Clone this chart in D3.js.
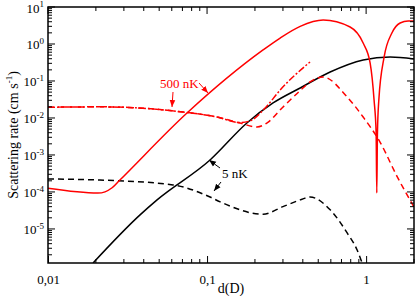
<!DOCTYPE html>
<html><head><meta charset="utf-8">
<script src="https://cdn.jsdelivr.net/npm/d3@7/dist/d3.min.js"></script>
<style>body{margin:0;background:#fff}svg{display:block}text{font-family:"Liberation Serif","DejaVu Serif",serif}</style>
</head><body>
<script>
// Data (d in D, rate in cm s^-1)
const red500Solid_d = [0.01,0.0206,0.0253,0.028,0.0748,0.225,0.288,0.385,0.537,0.793,0.958,1.06,1.122,1.156,1.167,1.178,1.202,1.298,1.452,1.636,1.837,2.0];
const red500Solid_v = [1.25e-4,9.3e-5,1.3e-4,2.0e-4,0.0136,0.69,1.45,3.0,4.45,2.88,1.06,0.306,0.0306,0.0039,9.4e-5,0.0039,0.0306,0.446,1.98,3.70,4.19,4.19];

const red500Dash_d = [0.01,0.0212,0.0706,0.1156,0.161,0.206,0.24,0.296,0.385,0.444,0.537,0.76,0.958,1.225,1.567,2.0];
const red500Dash_v = [0.0195,0.020,0.0145,0.0106,0.0073,0.0057,0.0075,0.0186,0.055,0.094,0.128,0.037,0.0106,0.0022,2.6e-4,3.9e-5];

const red500DashDot_d = [0.01,0.0212,0.0706,0.1156,0.161,0.186,0.232,0.288,0.444];
const red500DashDot_v = [0.0195,0.020,0.0145,0.0106,0.0075,0.0083,0.0186,0.057,0.327];

const black5Solid_d = [0.0192,0.0379,0.0485,0.1044,0.178,0.26,0.385,0.594,0.958,1.416,2.0];
const black5Solid_v = [1.2e-6,2.4e-5,6.1e-5,7.3e-4,7.3e-3,0.0254,0.0647,0.175,0.37,0.446,0.394];

const black5Dash_d = [0.01,0.0212,0.0611,0.1044,0.121,0.225,0.30,0.385,0.444,0.594,0.76,0.878,0.944];
const black5Dash_v = [2.24e-4,2.1e-4,1.55e-4,7.3e-5,5.4e-5,2.5e-5,4.0e-5,6.1e-5,7.3e-5,3.3e-5,7.8e-6,2.7e-6,1.2e-6];

const xMajorTicks = [0.01,0.1,1];
const xTickLabels = ["0,01","0,1","1"];
const yExponents = [1,0,-1,-2,-3,-4,-5];

const W=415,H=296;
const L=48,R=414,T=7,B=263;
const x=d3.scaleLog().domain([0.01,2]).range([L,R]);
const y=d3.scaleLog().domain([1.2e-6,10]).range([B,T]);

const svg=d3.select("body").append("svg").attr("width",W).attr("height",H);
const defs=svg.append("defs");
defs.append("clipPath").attr("id","clip").append("rect").attr("x",L).attr("y",T).attr("width",R-L).attr("height",B-T);
function marker(id,color){
  defs.append("marker").attr("id",id).attr("viewBox","0 0 10 10").attr("refX",10).attr("refY",5)
    .attr("markerWidth",7).attr("markerHeight",7).attr("orient","auto").attr("markerUnits","userSpaceOnUse")
    .append("path").attr("d","M0,1 L10,5 L0,9 z").attr("fill",color);
}
marker("ar","#ff0000");marker("ak","#000");

const line=d3.line().x(d=>x(d[0])).y(d=>y(d[1])).curve(d3.curveMonotoneX);
const g=svg.append("g").attr("clip-path","url(#clip)");
function draw(ds,vs,color,dash){
  g.append("path").datum(ds.map((d,i)=>[d,vs[i]])).attr("d",line).attr("fill","none")
   .attr("stroke",color).attr("stroke-width",1.5).attr("stroke-dasharray",dash);
}
draw(black5Dash_d,black5Dash_v,"#000","6,4");
draw(black5Solid_d,black5Solid_v,"#000",null);
draw(red500DashDot_d,red500DashDot_v,"#ff0000","7,2,2,2");
draw(red500Dash_d,red500Dash_v,"#ff0000","6,4");
draw(red500Solid_d,red500Solid_v,"#ff0000",null);

// frame
svg.append("rect").attr("x",L).attr("y",T).attr("width",R-L).attr("height",B-T).attr("fill","none").attr("stroke","#000").attr("stroke-width",1.5);

// x axes
const xAxB=d3.axisBottom(x).tickValues(xMajorTicks).tickFormat((d,i)=>xTickLabels[i]).tickSizeInner(-7).tickSizeOuter(0).tickPadding(12);
const gxb=svg.append("g").attr("transform",`translate(0,${B})`).call(xAxB);
gxb.select(".domain").remove();
gxb.selectAll("text").attr("font-size",13).attr("font-family","Liberation Serif");
const xMinor=[];
for(let e=-2;e<=0;e++)for(let k=2;k<=9;k++){const v=k*Math.pow(10,e);if(v<=2)xMinor.push(v);}
const gxm=svg.append("g");
xMinor.forEach(v=>{
  gxm.append("line").attr("x1",x(v)).attr("x2",x(v)).attr("y1",B).attr("y2",B-4).attr("stroke","#000");
  gxm.append("line").attr("x1",x(v)).attr("x2",x(v)).attr("y1",T).attr("y2",T+4).attr("stroke","#000");
});
xMajorTicks.forEach(v=>{
  gxm.append("line").attr("x1",x(v)).attr("x2",x(v)).attr("y1",T).attr("y2",T+7).attr("stroke","#000");
});

// y axes
const yMajor=yExponents.map(e=>Math.pow(10,e));
const gy=svg.append("g");
yMajor.forEach((v,i)=>{
  gy.append("line").attr("x1",L).attr("x2",L+7).attr("y1",y(v)).attr("y2",y(v)).attr("stroke","#000");
  gy.append("line").attr("x1",R).attr("x2",R-7).attr("y1",y(v)).attr("y2",y(v)).attr("stroke","#000");
  const t=gy.append("text").attr("x",L-4).attr("y",y(v)+5.5).attr("text-anchor","end").attr("font-size",13);
  t.append("tspan").text("10");
  t.append("tspan").attr("dy",-5.5).attr("font-size",9).text(String(yExponents[i]));
});
for(let e=-6;e<=0;e++)for(let k=2;k<=9;k++){
  const v=k*Math.pow(10,e); if(v<1.2e-6||v>10)continue;
  gy.append("line").attr("x1",L).attr("x2",L+4).attr("y1",y(v)).attr("y2",y(v)).attr("stroke","#000");
  gy.append("line").attr("x1",R).attr("x2",R-4).attr("y1",y(v)).attr("y2",y(v)).attr("stroke","#000");
}

// axis titles
svg.append("text").attr("x",(L+R)/2+0).attr("y",293).attr("text-anchor","middle").attr("font-size",14).text("d(D)");
const yl=svg.append("text").attr("transform",`translate(18,${(T+B)/2}) rotate(-90)`).attr("text-anchor","middle").attr("font-size",14);
yl.append("tspan").text("Scattering rate (cm s");
yl.append("tspan").attr("dy",-6).attr("font-size",9).text("-1");
yl.append("tspan").attr("dy",6).text(")");

// annotations
svg.append("text").attr("x",160).attr("y",88).attr("fill","#ff0000").attr("font-size",13).text("500 nK");
svg.append("line").attr("x1",199).attr("y1",83).attr("x2",208).attr("y2",93).attr("stroke","#ff0000").attr("marker-end","url(#ar)");
svg.append("line").attr("x1",173).attr("y1",92).attr("x2",172).attr("y2",107).attr("stroke","#ff0000").attr("marker-end","url(#ar)");
svg.append("text").attr("x",222).attr("y",178).attr("fill","#000").attr("font-size",13).text("5 nK");
svg.append("line").attr("x1",220).attr("y1",168).attr("x2",209).attr("y2",160).attr("stroke","#000").attr("marker-end","url(#ak)");
svg.append("line").attr("x1",221).attr("y1",182).attr("x2",214).attr("y2",191).attr("stroke","#000").attr("marker-end","url(#ak)");
</script>
</body></html>
